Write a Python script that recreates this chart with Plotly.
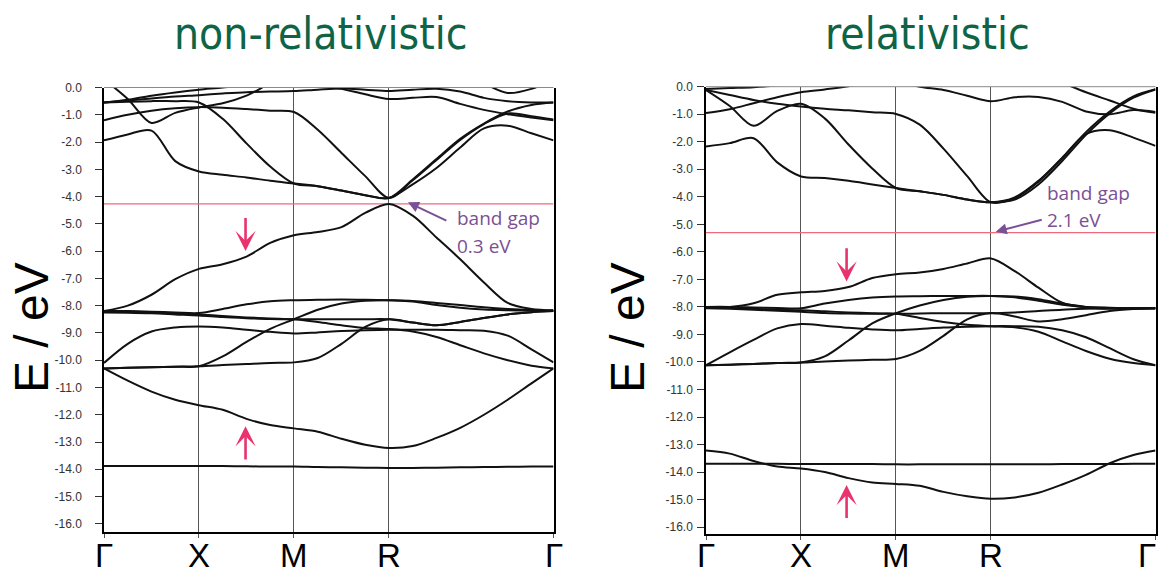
import plotly.graph_objects as go

W, H = 1158, 573

# k-path: Γ=0, X=1, M=2, R=3, Γ=3+√3
K = [0, 0.25, 0.5, 0.75, 1, 1.25, 1.5, 1.75, 2, 2.25, 2.5, 2.75, 3,
     3.25, 3.5, 3.75, 4.0, 4.25, 4.5, 4.732]
SYM_K = [0, 1, 2, 3, 4.732]
SYM_LABELS = ["Γ", "X", "M", "R", "Γ"]
Y_TICKS = [0, -1, -2, -3, -4, -5, -6, -7, -8, -9, -10, -11, -12, -13, -14, -15, -16]
Y_LABELS = [f"{v:.1f}" if v != 0 else "0.0" for v in Y_TICKS]
Y_LABELS = [s.replace("\u2212", "-") for s in Y_LABELS]

TITLES = ["non-relativistic", "relativistic"]
GAP_LINE = [-4.27, -5.3]
GAP_TEXT = [["band gap", "0.3 eV"], ["band gap", "2.1 eV"]]

# ---------------- non-relativistic bands (eV) ----------------
nr_vb = [-8.2, -8.0, -7.6, -7.03, -6.65, -6.48, -6.2, -5.7, -5.42, -5.3, -5.12, -4.6, -4.27,
         -4.7, -5.5, -6.3, -7.15, -7.9, -8.12, -8.17]
nr_a = [-1.94, -1.72, -1.58, -2.7, -3.08, -3.2, -3.3, -3.42, -3.52, -3.62, -3.78, -3.95, -4.05,
        -3.37, -2.62, -1.88, -1.32, -0.88, -0.64, -0.55]
nr_c = [-1.2, -1.0, -0.85, -0.76, -0.72, -0.74, -0.79, -0.85, -0.9, -1.55, -2.4, -3.25, -4.05,
        -3.4, -2.66, -1.92, -1.34, -0.95, -1.05, -1.17]
nr_h = [-0.55, -0.52, -0.5, -0.5, -0.55, -1.15, -2.05, -2.9, -3.52, -3.62, -3.78, -3.95, -4.05,
        -3.55, -2.95, -2.2, -1.5, -1.4, -1.68, -1.94]
nr_b = [0.3, -0.42, -1.3, -0.93, -0.73, -0.58, -0.3, 0.15, 0.5, 0.8, 0.8, 0.8, 0.8,
        0.8, 0.8, 0.8, 0.8, 0.8, 0.8, 0.8]
nr_d = [-0.55, -0.48, -0.4, -0.33, -0.28, -0.22, -0.17, -0.15, -0.13, -0.08, -0.04, -0.08, -0.13,
        -0.08, -0.05, -0.15, -0.38, -0.5, -0.55, -0.55]
nr_e = [0.8, 0.8, 0.8, 0.8, 0.8, 0.8, 0.8, 0.6, 0.3, 0.1, -0.05, -0.25, -0.42,
        -0.38, -0.35, -0.6, -0.82, -0.98, -1.1, -1.2]
nr_f = [0.8, 0.8, 0.8, 0.8, 0.8, 0.8, 0.8, 0.8, 0.8, 0.8, 0.8, 0.8, 0.8,
        0.8, 0.8, 0.6, 0.15, -0.2, -0.05, 0.3]
nr_g = [-0.55, -0.45, -0.3, -0.18, -0.08, 0.0, 0.1, 0.3, 0.5, 0.8, 0.8, 0.8, 0.8,
        0.8, 0.8, 0.8, 0.8, 0.8, 0.8, 0.8]
nr_p1 = [-8.2, -8.2, -8.22, -8.25, -8.27, -8.12, -7.95, -7.84, -7.8, -7.78, -7.77, -7.78, -7.8,
         -7.83, -7.9, -7.98, -8.06, -8.12, -8.16, -8.18]
nr_p2 = [-8.2, -8.22, -8.25, -8.28, -8.32, -8.38, -8.43, -8.47, -8.5, -8.6, -8.72, -8.82, -8.86,
         -8.95, -9.15, -9.45, -9.75, -10.0, -10.2, -10.3]
nr_p3 = [-10.1, -9.4, -8.95, -8.8, -8.76, -8.8, -8.88, -8.96, -9.02, -8.98, -8.93, -8.9, -8.88,
         -8.88, -8.88, -8.9, -8.92, -9.1, -9.6, -10.08]
nr_p4 = [-10.3, -10.28, -10.26, -10.24, -10.22, -10.18, -10.14, -10.1, -10.08, -9.92, -9.4, -8.78, -8.5,
         -8.62, -8.72, -8.6, -8.45, -8.32, -8.24, -8.2]
nr_p5 = [-8.25, -8.26, -8.28, -8.32, -8.36, -8.42, -8.46, -8.49, -8.5, -8.5, -8.5, -8.5, -8.5,
         -8.62, -8.72, -8.6, -8.45, -8.32, -8.24, -8.2]
nr_p6 = [-10.3, -10.28, -10.26, -10.24, -10.22, -9.86, -9.33, -8.85, -8.5, -8.15, -7.92, -7.82, -7.8,
         -7.85, -7.98, -8.08, -8.14, -8.17, -8.19, -8.2]
nr_low = [-10.3, -10.75, -11.15, -11.45, -11.65, -11.82, -12.15, -12.38, -12.5, -12.62, -12.88, -13.1, -13.22,
          -13.15, -12.85, -12.48, -12.0, -11.45, -10.85, -10.3]
nr_flat = [-13.88, -13.88, -13.88, -13.88, -13.88, -13.88, -13.89, -13.9, -13.9, -13.92, -13.93, -13.94, -13.95,
           -13.95, -13.94, -13.93, -13.92, -13.91, -13.9, -13.9]

# ---------------- relativistic bands (eV) ----------------
r_vb = [-8.0, -8.0, -7.87, -7.56, -7.47, -7.42, -7.28, -6.95, -6.81, -6.75, -6.62, -6.42, -6.24,
        -6.7, -7.3, -7.85, -8.02, -8.07, -8.06, -8.05]
r_R1 = [-0.96, -0.82, -0.6, -0.38, -0.2, -0.1, 0.02, 0.2, 0.4, 0.6, 0.8, 0.8, 0.8,
        0.8, 0.8, 0.8, 0.8, 0.8, 0.8, 0.8]
r_R8 = [-0.12, -0.3, -0.48, -0.62, -0.72, -0.8, -0.86, -0.93, -0.99, -1.38, -2.25, -3.25, -4.2,
        -4.05, -3.45, -2.6, -1.65, -0.9, -0.35, -0.09]
r_R2 = [-0.12, -0.7, -1.42, -0.88, -0.62, -1.15, -2.1, -2.97, -3.68, -3.8, -3.93, -4.1, -4.2,
        -4.02, -3.42, -2.58, -1.72, -1.58, -1.85, -2.15]
r_R3 = [-2.17, -2.05, -1.87, -2.75, -3.26, -3.32, -3.42, -3.55, -3.68, -3.8, -3.93, -4.1, -4.2,
        -4.1, -3.55, -2.7, -1.75, -0.97, -0.4, -0.1]
r_R4 = [0.8, 0.8, 0.8, 0.8, 0.8, 0.8, 0.6, 0.4, 0.2, 0.0, -0.12, -0.33, -0.53,
        -0.38, -0.37, -0.55, -0.9, -1.0, -0.85, -0.92]
r_R5 = [0.8, 0.8, 0.8, 0.8, 0.8, 0.8, 0.8, 0.8, 0.8, 0.8, 0.8, 0.8, 0.8,
        0.8, 0.5, 0.15, -0.2, -0.5, -0.8, -0.95]
r_R7 = [-0.08, -0.05, -0.02, 0.05, 0.2, 0.4, 0.6, 0.8, 0.8, 0.8, 0.8, 0.8, 0.8,
        0.8, 0.8, 0.8, 0.8, 0.8, 0.8, 0.8]
r_p1 = [-8.0, -8.0, -8.02, -8.04, -8.05, -7.88, -7.75, -7.66, -7.62, -7.61, -7.6, -7.6, -7.6,
        -7.62, -7.72, -7.88, -8.0, -8.04, -8.05, -8.05]
r_p2 = [-10.12, -10.1, -10.07, -10.04, -10.02, -9.8, -9.22, -8.6, -8.23, -7.95, -7.75, -7.63, -7.6,
        -7.65, -7.78, -7.92, -8.0, -8.03, -8.05, -8.05]
r_p3 = [-10.12, -9.65, -9.2, -8.78, -8.62, -8.68, -8.76, -8.82, -8.85, -8.8, -8.75, -8.72, -8.7,
        -8.7, -8.72, -8.85, -9.1, -9.5, -9.9, -10.12]
r_p4 = [-10.12, -10.1, -10.07, -10.04, -10.02, -9.98, -9.95, -9.92, -9.89, -9.6, -9.05, -8.45, -8.22,
        -8.35, -8.53, -8.45, -8.3, -8.15, -8.08, -8.05]
r_p5 = [-8.02, -8.04, -8.07, -8.1, -8.12, -8.16, -8.2, -8.23, -8.25, -8.24, -8.23, -8.23, -8.23,
        -8.2, -8.15, -8.1, -8.07, -8.05, -8.05, -8.05]
r_p6 = [-8.05, -8.07, -8.1, -8.14, -8.18, -8.22, -8.24, -8.25, -8.25, -8.4, -8.55, -8.65, -8.7,
        -8.74, -8.9, -9.25, -9.6, -9.88, -10.04, -10.12]
r_low = [-13.22, -13.33, -13.6, -13.8, -13.87, -14.0, -14.22, -14.38, -14.43, -14.5, -14.72, -14.88, -14.97,
         -14.92, -14.75, -14.45, -14.1, -13.68, -13.38, -13.22]
r_flat = [-13.7, -13.7, -13.7, -13.7, -13.71, -13.71, -13.71, -13.71, -13.72, -13.72, -13.72, -13.72, -13.72,
          -13.72, -13.72, -13.71, -13.71, -13.71, -13.7, -13.7]

PANELS = [
    [nr_p1, nr_p2, nr_p3, nr_p4, nr_p5, nr_p6, nr_low, nr_flat, nr_vb,
     nr_a, nr_c, nr_h, nr_b, nr_d, nr_e, nr_f, nr_g],
    [r_p1, r_p2, r_p3, r_p4, r_p5, r_p6, r_low, r_flat, r_vb,
     r_R1, r_R8, r_R2, r_R3, r_R4, r_R5, r_R7],
]

# arrows (k, E tail, E tip)
DOWN_ARROW = [(1.49, -4.73, -6.0), (1.48, -5.81, -7.08)]
UP_ARROW = [(1.49, -13.7, -12.42), (1.48, -15.72, -14.47)]
GAP_ARROW = [((3.62, -4.91), (3.2, -4.21)), ((3.55, -4.82), (3.05, -5.27))]
GAP_TEXT_POS = [((3.69, -4.8), (3.69, -5.8)), ((3.57, -3.87), (3.57, -4.86))]

XDOM = [[104 / W, 553.5 / W], [706 / W, 1155.5 / W]]
YDOM = [[1 - 532 / H, 1 - 87.5 / H], [1 - 534 / H, 1 - 86.7 / H]]
YRANGE = [[-16.3, 0], [-16.25, 0]]

fig = go.Figure()
BAND_COLOR = "#111111"
PINK = "#e8336d"
PURPLE = "#7b5095"

for i, bands in enumerate(PANELS):
    xa = "x" if i == 0 else "x2"
    ya = "y" if i == 0 else "y2"
    fig.add_trace(go.Scatter(x=[SYM_K[0], SYM_K[-1]], y=[GAP_LINE[i], GAP_LINE[i]], mode="lines",
                             line=dict(color="#f06a7e", width=1.2), xaxis=xa, yaxis=ya,
                             hoverinfo="skip", showlegend=False))
    for b in bands:
        fig.add_trace(go.Scatter(x=K, y=b, mode="lines",
                                 line=dict(color=BAND_COLOR, width=2, shape="spline", smoothing=0.9),
                                 xaxis=xa, yaxis=ya, hoverinfo="skip", showlegend=False))

annotations = []
shapes = []
for i in range(2):
    xa = "x" if i == 0 else "x2"
    ya = "y" if i == 0 else "y2"
    for (k, e0, e1) in (DOWN_ARROW[i], UP_ARROW[i]):
        annotations.append(dict(x=k, y=e1, ax=k, ay=e0, xref=xa, yref=ya, axref=xa, ayref=ya,
                                text="", showarrow=True, arrowhead=3, arrowsize=1.3,
                                arrowwidth=2.6, arrowcolor=PINK))
    (tx, ty), (hx, hy) = GAP_ARROW[i]
    annotations.append(dict(x=hx, y=hy, ax=tx, ay=ty, xref=xa, yref=ya, axref=xa, ayref=ya,
                            text="", showarrow=True, arrowhead=2, arrowsize=1.1,
                            arrowwidth=2, arrowcolor=PURPLE))
    for (px, py), t in zip(GAP_TEXT_POS[i], GAP_TEXT[i]):
        annotations.append(dict(x=px, y=py, xref=xa, yref=ya, text=t, showarrow=False,
                                xanchor="left", yanchor="middle",
                                font=dict(family="Open Sans", size=19, color=PURPLE)))
    # high-symmetry point labels under the axis
    for j, (k, lab) in enumerate(zip(SYM_K, SYM_LABELS)):
        last_right = (i == 1 and j == len(SYM_K) - 1)
        annotations.append(dict(x=k, y=1 - 535 / H, xref=xa, yref="paper", text=lab,
                                showarrow=False, xanchor="right" if last_right else "center",
                                xshift=2 if last_right else 0, yanchor="top",
                                font=dict(family="Liberation Sans", size=33, color="#000")))
    annotations.append(dict(x=[320 / W, 927 / W][i], y=1 - 34 / H, xref="paper", yref="paper",
                            text=TITLES[i], showarrow=False, xanchor="center", yanchor="middle",
                            font=dict(family="DejaVu Sans Condensed, Open Sans", size=44,
                                      color="#0f6446")))
    annotations.append(dict(x=[31 / W, 627 / W][i], y=1 - 328 / H, xref="paper", yref="paper",
                            text="E / eV", showarrow=False, textangle=-90,
                            xanchor="center", yanchor="middle",
                            font=dict(family="Liberation Sans", size=48, color="#000")))
    shapes.append(dict(type="line", xref="paper", yref="paper", x0=XDOM[i][0], x1=XDOM[i][1],
                       y0=YDOM[i][1], y1=YDOM[i][1], line=dict(color="#8a8a8a", width=1)))

xcommon = dict(range=[SYM_K[0], SYM_K[-1]], tickvals=SYM_K, ticktext=SYM_LABELS,
               showticklabels=False,
               showgrid=True, gridcolor="#555555", gridwidth=1, zeroline=False,
               showline=True, linecolor="#000", linewidth=1.5, mirror=False,
               ticks="outside", ticklen=4, tickcolor="#555", tickwidth=1,
               automargin=False, fixedrange=True)
ycommon = dict(tickvals=Y_TICKS, ticktext=Y_LABELS, showgrid=False, zeroline=False,
               showline=True, linecolor="#000", linewidth=1.5, mirror=True,
               ticks="outside", ticklen=7, tickcolor="#333", tickwidth=1,
               tickfont=dict(family="Liberation Sans", size=12, color="#333"),
               automargin=False, fixedrange=True)

fig.update_layout(
    width=W, height=H, autosize=False,
    margin=dict(l=0, r=0, t=0, b=0),
    paper_bgcolor="white", plot_bgcolor="white",
    xaxis=dict(domain=XDOM[0], anchor="y", **xcommon),
    xaxis2=dict(domain=XDOM[1], anchor="y2", **xcommon),
    yaxis=dict(domain=YDOM[0], anchor="x", range=YRANGE[0], ticklabelstandoff=11, **ycommon),
    yaxis2=dict(domain=YDOM[1], anchor="x2", range=YRANGE[1], ticklabelstandoff=2, **ycommon),
    annotations=annotations, shapes=shapes, showlegend=False,
)

fig.write_html("out.html", include_plotlyjs=True, config={"displayModeBar": False})
